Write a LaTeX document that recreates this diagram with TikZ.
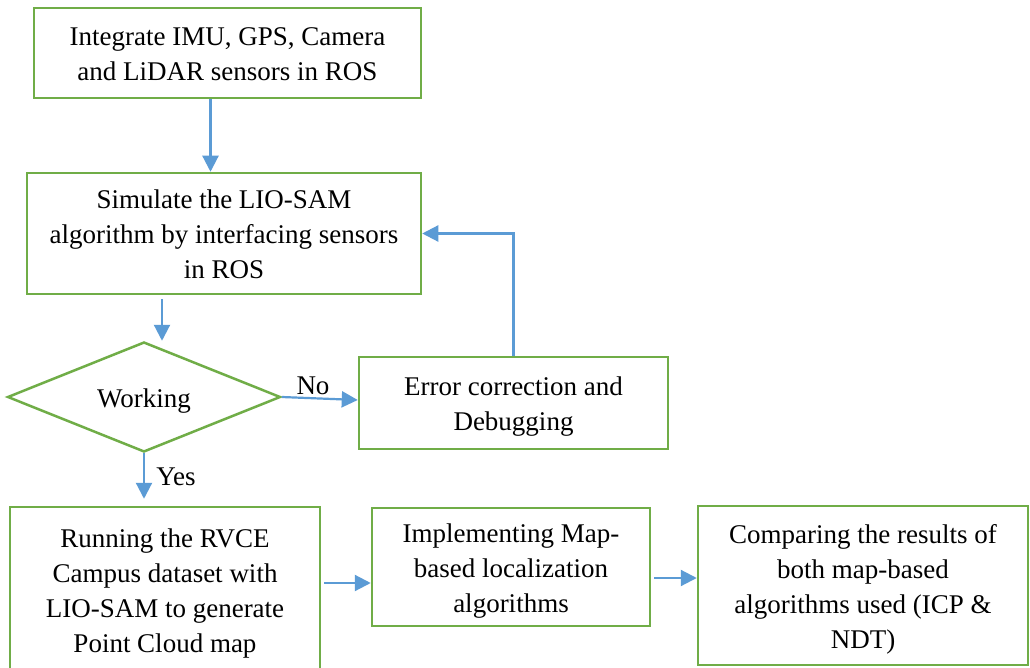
\documentclass[tikz,border=0pt]{standalone}
\usepackage{fontspec}
\setmainfont{Liberation Serif}
\usetikzlibrary{arrows.meta,shapes.geometric}
\definecolor{gbox}{RGB}{112,173,71}
\definecolor{barr}{RGB}{91,155,213}
\newcommand\lowtxt[1]{\raisebox{0pt}[\dimexpr\height+6pt\relax][\depth]{\begin{tabular}{@{}c@{}}#1\end{tabular}}}
\begin{document}
\begin{tikzpicture}[x=1pt,y=-1pt,
 box/.style={draw=gbox,line width=2.5pt,rectangle,inner sep=0pt,font=\fontsize{27}{35}\selectfont},
 dec/.style={draw=gbox,line width=2.5pt,diamond,aspect=2.5,inner sep=0pt,font=\fontsize{27}{35}\selectfont},
 arr/.style={draw=barr,line width=2.2pt,-{Triangle[length=16pt,width=16pt]}},
 lbl/.style={font=\fontsize{27}{35}\selectfont,inner sep=0pt}]
\clip (0,0) rectangle (1030,668);
\fill[white] (0,0) rectangle (1030,668);
\node[box,minimum width=387pt,minimum height=90pt] (int) at (227.5,53) {\lowtxt{Integrate IMU, GPS, Camera\\and LiDAR sensors in ROS}};
\node[box,minimum width=394pt,minimum height=121pt] (sim) at (224,233.5) {\lowtxt{Simulate the LIO-SAM\\algorithm by interfacing sensors\\in ROS}};
\node[dec,minimum width=273pt,minimum height=110pt] (dia) at (144,397) {\lowtxt{Working}};
\node[box,minimum width=309pt,minimum height=92pt] (err) at (513.5,403) {\lowtxt{Error correction and\\Debugging}};
\node[box,minimum width=310pt,minimum height=165pt] (run) at (165,589.5) {\lowtxt{Running the RVCE\\Campus dataset with\\LIO-SAM to generate\\Point Cloud map}};
\node[box,minimum width=278pt,minimum height=118pt] (imp) at (511,567) {\lowtxt{Implementing Map-\\based localization\\algorithms}};
\node[box,minimum width=330pt,minimum height=159pt] (cmp) at (863,585.5) {\lowtxt{Comparing the results of\\both map-based\\algorithms used (ICP \&\\NDT)}};
\node[lbl] (no) at (313,386) {No};
\node[lbl] (yes) at (176,477) {Yes};
\coordinate (a2) at (162,299);
\coordinate (r1) at (324,583);
\coordinate (m1) at (654,578);
\draw[arr] ([xshift=-17pt]int.south) -- ([xshift=-17pt]int.south |- sim.north);
\draw[arr] (a2) -- (a2 |- dia.north);
\draw[arr] (dia.east) -- ([yshift=3pt]err.west);
\draw[arr] (err.north) |- (sim.east);
\draw[arr] (dia.south) -- ([yshift=7pt]dia.south |- run.north);
\draw[arr] (r1) -- (r1 -| imp.west);
\draw[arr] (m1) -- (m1 -| cmp.west);
\end{tikzpicture}
\end{document}
